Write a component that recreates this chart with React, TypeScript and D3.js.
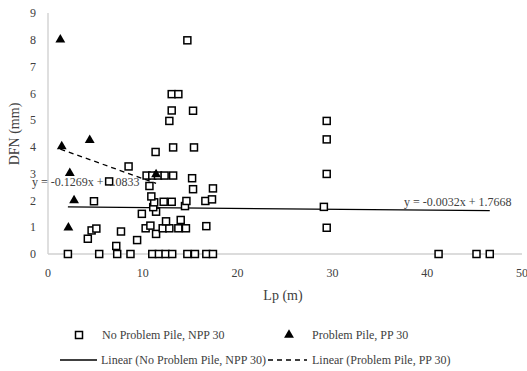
import React, { useEffect, useRef } from 'react';
import * as d3 from 'd3';

// No Problem Pile, NPP 30
const nppX = [2.1, 5.4, 7.3, 8.7, 11.0, 11.7, 12.4, 13.1, 14.7, 15.5, 16.7, 17.4, 41.2, 45.2, 46.6,
  4.2, 4.6, 5.1, 7.2, 7.7, 9.4, 11.4, 10.3, 12.1, 12.8, 13.75, 14.55, 16.7, 10.8, 12.45, 14.0,
  9.9, 11.4, 11.1, 14.45, 4.85, 11.2, 12.2, 13.05, 14.6, 16.6, 17.3, 10.9, 10.7, 15.3, 17.4,
  6.45, 15.2, 10.4, 11.0, 11.6, 12.3, 13.2, 8.5, 11.35, 13.2, 15.4, 12.8, 13.05, 15.3, 13.05,
  13.75, 14.7, 29.4, 29.4, 29.4, 29.1, 29.4];
const nppY = [0, 0, 0, 0, 0, 0, 0, 0, 0, 0, 0, 0, 0, 0, 0,
  0.57, 0.88, 0.95, 0.3, 0.84, 0.52, 0.75, 0.96, 0.96, 0.96, 0.96, 0.96, 1.04, 1.06, 1.22, 1.27,
  1.5, 1.58, 1.75, 1.79, 1.97, 1.93, 1.95, 1.95, 1.98, 1.98, 2.04, 2.15, 2.54, 2.42, 2.45,
  2.71, 2.83, 2.93, 2.93, 2.93, 2.93, 2.93, 3.27, 3.81, 3.98, 3.98, 4.97, 5.36, 5.35, 5.97,
  5.97, 7.98, 4.97, 4.28, 2.99, 1.76, 0.98];

// Problem Pile, PP 30
const ppX = [1.3, 1.45, 4.4, 2.3, 2.75, 2.15, 11.4];
const ppY = [8, 4.02, 4.25, 3.02, 2.0, 0.98, 2.97];

// trendline coefficients [slope, intercept]
const nppTrend = [-0.0032, 1.7668];
const ppTrend = [-0.1269, 4.0833];

const xTicks = [0, 10, 20, 30, 40, 50];
const yTicks = [0, 1, 2, 3, 4, 5, 6, 7, 8, 9];

export default function App() {
  const ref = useRef<SVGSVGElement>(null);

  useEffect(() => {
    var svg = d3.select(ref.current);
    svg.selectAll('*').remove();
    var font = '"Liberation Serif", "Times New Roman", serif';

    var x = d3.scaleLinear().domain([0, 50]).range([48, 522]);
    var y = d3.scaleLinear().domain([0, 9]).range([254, 13]);

    // axes lines
    svg.append('line')
      .attr('x1', x(0)).attr('x2', x(0)).attr('y1', y(9)).attr('y2', y(0))
      .attr('stroke', '#bfbfbf').attr('stroke-width', 1);
    svg.append('line')
      .attr('x1', x(0)).attr('x2', x(50)).attr('y1', y(0)).attr('y2', y(0))
      .attr('stroke', '#d0d0d0').attr('stroke-width', 1.5);

    // tick labels
    svg.selectAll('.yt').data(yTicks).enter().append('text')
      .attr('x', 36).attr('y', d => y(d)).attr('dy', '0.35em')
      .attr('text-anchor', 'end').attr('font-family', font).attr('font-size', 12)
      .attr('fill', '#404040').text(d => d);
    svg.selectAll('.xt').data(xTicks).enter().append('text')
      .attr('x', d => x(d)).attr('y', 277)
      .attr('text-anchor', 'middle').attr('font-family', font).attr('font-size', 12)
      .attr('fill', '#404040').text(d => d);

    // axis titles
    svg.append('text')
      .attr('transform', 'translate(19,134) rotate(-90)')
      .attr('text-anchor', 'middle').attr('font-family', font).attr('font-size', 14)
      .attr('fill', '#404040').text('DFN (mm)');
    svg.append('text')
      .attr('x', 283).attr('y', 300)
      .attr('text-anchor', 'middle').attr('font-family', font).attr('font-size', 14)
      .attr('fill', '#404040').text('Lp (m)');

    // trendlines
    var line = d3.line<number>().x(d => x(d[0])).y(d => y(d[1]));
    var nx = d3.extent(nppX) as number[];
    var px = d3.extent(ppX) as number[];
    svg.append('path')
      .attr('d', line(nx.map(v => [v, nppTrend[0] * v + nppTrend[1]]) as any))
      .attr('stroke', '#000').attr('stroke-width', 1.3).attr('fill', 'none');
    svg.append('path')
      .attr('d', line(px.map(v => [v, ppTrend[0] * v + ppTrend[1]]) as any))
      .attr('stroke', '#000').attr('stroke-width', 1.3).attr('stroke-dasharray', '5,4').attr('fill', 'none');

    // trend equations
    svg.append('text')
      .attr('x', 32).attr('y', 186).attr('font-family', font).attr('font-size', 12)
      .attr('fill', '#404040')
      .text('y = ' + ppTrend[0] + 'x + ' + ppTrend[1]);
    svg.append('text')
      .attr('x', 404).attr('y', 206).attr('font-family', font).attr('font-size', 12)
      .attr('fill', '#404040')
      .text('y = ' + nppTrend[0] + 'x + ' + nppTrend[1]);

    // squares
    var s = 7;
    svg.selectAll('.npp').data(nppX).enter().append('rect')
      .attr('x', (d, i) => x(d) - s / 2).attr('y', (d, i) => y(nppY[i]) - s / 2)
      .attr('width', s).attr('height', s)
      .attr('fill', '#fff').attr('stroke', '#000').attr('stroke-width', 1.5);

    // triangles
    var tri = d3.symbol().type(d3.symbolTriangle).size(42);
    svg.selectAll('.pp').data(ppX).enter().append('path')
      .attr('d', tri)
      .attr('transform', (d, i) => 'translate(' + x(d) + ',' + y(ppY[i]) + ')')
      .attr('fill', '#000');

    // legend
    var g = svg.append('g').attr('font-family', font).attr('font-size', 12).attr('fill', '#404040');
    g.append('rect').attr('x', 79 - s / 2).attr('y', 335 - s / 2).attr('width', s).attr('height', s)
      .attr('fill', '#fff').attr('stroke', '#000').attr('stroke-width', 1.5);
    g.append('text').attr('x', 102).attr('y', 335).attr('dy', '0.35em').text('No Problem Pile, NPP 30');
    g.append('path').attr('d', tri).attr('transform', 'translate(289,335)').attr('fill', '#000');
    g.append('text').attr('x', 312).attr('y', 335).attr('dy', '0.35em').text('Problem Pile, PP 30');
    g.append('line').attr('x1', 60).attr('x2', 97).attr('y1', 360).attr('y2', 360)
      .attr('stroke', '#000').attr('stroke-width', 1.3);
    g.append('text').attr('x', 101).attr('y', 360).attr('dy', '0.35em').text('Linear (No Problem Pile, NPP 30)');
    g.append('line').attr('x1', 268).attr('x2', 307).attr('y1', 360).attr('y2', 360)
      .attr('stroke', '#000').attr('stroke-width', 1.3).attr('stroke-dasharray', '5,4');
    g.append('text').attr('x', 312).attr('y', 360).attr('dy', '0.35em').text('Linear (Problem Pile, PP 30)');
  }, []);

  return (
    <svg ref={ref} width={527} height={371}
      style={{ position: 'absolute', left: 0, top: 0, background: '#fff' }}></svg>
  );
}
